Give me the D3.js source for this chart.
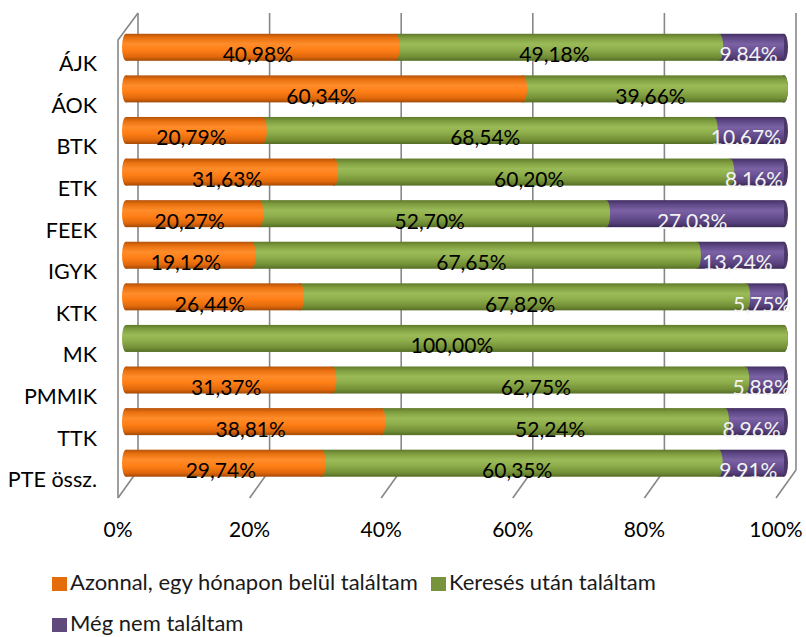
<!DOCTYPE html>
<html>
<head>
<meta charset="utf-8">
<script src="https://cdn.jsdelivr.net/npm/d3@7"></script>
<style>
  body { margin: 0; background: #fff; }
  svg { display: block; font-family: Lato, "Open Sans", sans-serif; }
</style>
</head>
<body>
<svg id="chart"></svg>
<script>
var categories = ["ÁJK", "ÁOK", "BTK", "ETK", "FEEK", "IGYK", "KTK", "MK", "PMMIK", "TTK", "PTE össz."];
var azonnal = [40.98, 60.34, 20.79, 31.63, 20.27, 19.12, 26.44, 0, 31.37, 38.81, 29.74];
var kereses = [49.18, 39.66, 68.54, 60.20, 52.70, 67.65, 67.82, 100, 62.75, 52.24, 60.35];
var megNem = [9.84, 0, 10.67, 8.16, 27.03, 13.24, 5.75, 0, 5.88, 8.96, 9.91];
var seriesNames = ["Azonnal, egy hónapon belül találtam", "Keresés után találtam", "Még nem találtam"];
var xTicks = [0, 20, 40, 60, 80, 100];

var width = 806;
var height = 637;
var fontSize = 21;

var svg = d3.select("#chart")
            .attr("width", width)
            .attr("height", height)

// 3d box: back wall, front plane and the middle where the bars sit
var xBack = d3.scaleLinear().domain([0, 100]).range([138, 796]);
var xFront = d3.scaleLinear().domain([0, 100]).range([118, 776]);
var xMid = d3.scaleLinear().domain([0, 100]).range([126, 784]);
var backTop = 13, backBottom = 470, frontTop = 40, frontBottom = 498;

var y = d3.scaleBand()
          .domain(categories)
          .range([26.5, 484])
          .paddingInner(0.35)
          .paddingOuter(0.175)

var series = [
    { name: seriesNames[0], values: azonnal, grad: ["#b5520a", "#e8700f", "#ff8c2a", "#ff7f16", "#e0680b", "#a24a07"], swatch: "#e46c0a", label: "#000" },
    { name: seriesNames[1], values: kereses, grad: ["#5f7a2b", "#7f9d3f", "#9bbb58", "#8dac4a", "#728f36", "#556d25"], swatch: "#77933c", label: "#000" },
    { name: seriesNames[2], values: megNem, grad: ["#432f62", "#5e4785", "#7a62a4", "#6a5294", "#553f7a", "#3a2855"], swatch: "#604a7b", label: "#f2f2f2" }
];

var defs = svg.append("defs");
series.forEach(function(s, i) {
    var g = defs.append("linearGradient")
                .attr("id", "grad" + i)
                .attr("x1", 0).attr("y1", 0)
                .attr("x2", 0).attr("y2", 1)
    var offs = [0, 0.15, 0.38, 0.6, 0.85, 1];
    offs.forEach(function(o, j) {
        g.append("stop").attr("offset", o).attr("stop-color", s.grad[j]);
    })
})

//--------------- walls and gridlines ---------------------
var grid = svg.append("g")
              .attr("stroke", "#878787")
              .attr("stroke-width", 1.6)
              .attr("fill", "none")

grid.selectAll(".gl")
    .data(xTicks)
    .enter().append("line")
    .attr("x1", function(d) { return xBack(d); })
    .attr("x2", function(d) { return xBack(d); })
    .attr("y1", backTop)
    .attr("y2", backBottom)

grid.selectAll(".fl")
    .data(xTicks)
    .enter().append("line")
    .attr("x1", function(d) { return xBack(d); })
    .attr("y1", backBottom)
    .attr("x2", function(d) { return xFront(d); })
    .attr("y2", frontBottom)

// left side wall
grid.append("path")
    .attr("d", "M" + xBack(0) + "," + backTop + "L" + xFront(0) + "," + frontTop + "L" + xFront(0) + "," + frontBottom)

//--------------- bars ---------------------
var rx = 4;
var barH = y.bandwidth();

categories.forEach(function(cat, ci) {
    var row = svg.append("g");
    var yTop = y(cat);
    var cy = yTop + barH / 2;
    var starts = [];
    var acc = 0;
    series.forEach(function(s) { starts.push(acc); acc += s.values[ci]; });

    // back cap on the left
    var firstIdx = series.findIndex(function(s) { return s.values[ci] > 0; });
    row.append("ellipse")
       .attr("cx", xMid(0))
       .attr("cy", cy)
       .attr("rx", rx)
       .attr("ry", barH / 2)
       .attr("fill", "url(#grad" + firstIdx + ")")

    // draw from the last segment so each rounded end sits over the next one
    for (var si = series.length - 1; si >= 0; si--) {
        var v = series[si].values[ci];
        if (si == series.length - 1) {
            // end face of the cylinder
            row.append("ellipse")
               .attr("cx", xMid(100))
               .attr("cy", cy)
               .attr("rx", rx)
               .attr("ry", barH / 2)
               .attr("fill", "#4b3868")
        }
        if (v <= 0) continue;
        var x0 = xMid(starts[si]);
        var x1 = xMid(starts[si] + v);
        row.append("rect")
           .attr("x", x0)
           .attr("y", yTop)
           .attr("width", x1 - x0)
           .attr("height", barH)
           .attr("fill", "url(#grad" + si + ")")
        if (si < series.length - 1) {
            row.append("ellipse")
               .attr("cx", x1)
               .attr("cy", cy)
               .attr("rx", rx)
               .attr("ry", barH / 2)
               .attr("fill", "url(#grad" + si + ")")
        }
    }
})

//--------------- data labels ---------------------
var fmt = function(d) { return d3.format(".2f")(d).replace(".", ",") + "%"; };

categories.forEach(function(cat, ci) {
    var acc = 0;
    series.forEach(function(s) {
        var v = s.values[ci];
        if (v > 0) {
            svg.append("text")
               .attr("x", xMid(acc + v / 2) - 3)
               .attr("y", y(cat) + barH / 2 + 15)
               .attr("text-anchor", "middle")
               .attr("font-size", fontSize)
               .attr("fill", s.label)
               .text(fmt(v))
        }
        acc += v;
    })
})

//--------------- axes ---------------------
svg.append("g")
   .selectAll("text")
   .data(categories)
   .enter().append("text")
   .attr("x", 97)
   .attr("y", function(d) { return y(d) + barH / 2 + 24; })
   .attr("text-anchor", "end")
   .attr("font-size", 21.5)
   .attr("fill", "#000")
   .text(function(d) { return d; })

svg.append("g")
   .selectAll("text")
   .data(xTicks)
   .enter().append("text")
   .attr("x", function(d) { return xFront(d); })
   .attr("y", 537)
   .attr("text-anchor", "middle")
   .attr("font-size", fontSize)
   .attr("fill", "#000")
   .text(function(d) { return d + "%"; })

//--------------- legend ---------------------
var legendPos = [[52, 577], [431, 577], [52, 618]];
var legend = svg.append("g");
series.forEach(function(s, i) {
    legend.append("rect")
          .attr("x", legendPos[i][0])
          .attr("y", legendPos[i][1])
          .attr("width", 15)
          .attr("height", 14)
          .attr("fill", s.swatch)
    legend.append("text")
          .attr("x", legendPos[i][0] + 18)
          .attr("y", legendPos[i][1] + 13)
          .attr("font-size", 22)
          .attr("fill", "#1a1a1a")
          .text(s.name)
})
</script>
</body>
</html>
